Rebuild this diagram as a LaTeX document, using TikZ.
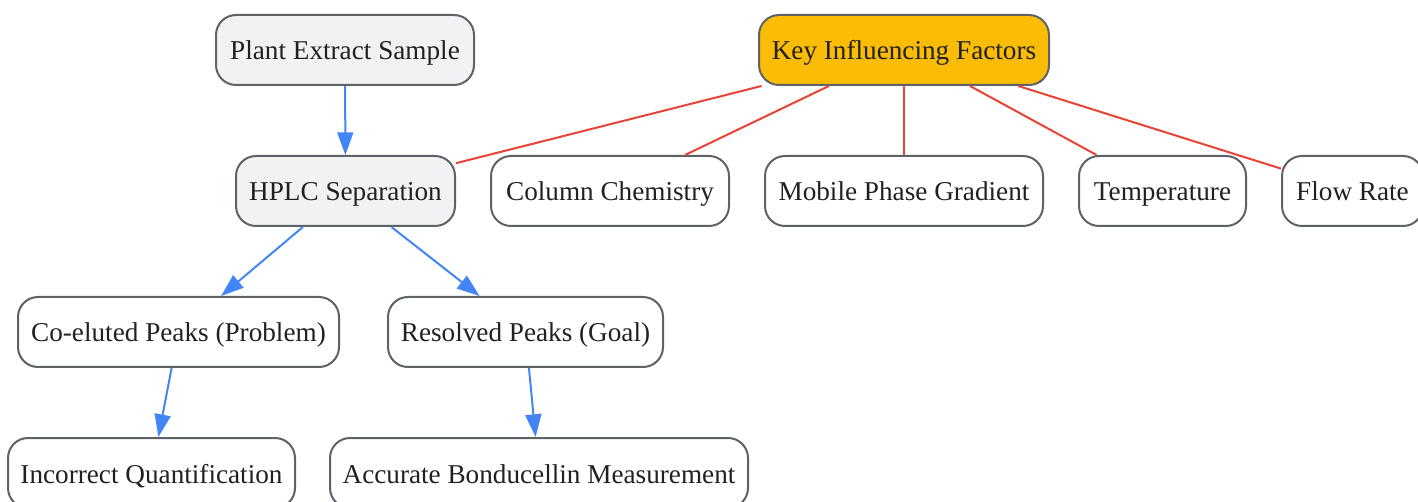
\documentclass[tikz,border=0pt]{standalone}
\usepackage{fontspec}
\setmainfont{Liberation Serif}
\usepackage{tikz}
\usetikzlibrary{arrows.meta}

\definecolor{boxline}{HTML}{5F6368}
\definecolor{boxgray}{HTML}{F1F2F4}
\definecolor{keyfill}{HTML}{FBBC05}
\definecolor{flowblue}{HTML}{4285F4}
\definecolor{factorred}{HTML}{EA4335}
\definecolor{textdark}{HTML}{202124}

\begin{document}
\begin{tikzpicture}[x=0.75pt, y=-0.75pt,
  stage/.style={draw=boxline, line width=1.5pt, rounded corners=15pt, minimum height=52.5pt,
    text height=17pt, text depth=2pt, inner ysep=0pt,
    text=textdark, font=\fontsize{20.4}{24}\selectfont, fill=white},
  flow/.style={draw=flowblue, line width=1.5pt, -{Triangle[length=17pt, width=12pt]}},
  factor/.style={draw=factorred, line width=1.5pt}]
\clip (0, 0) rectangle (1418, 502);

\node[stage, fill=boxgray, minimum width=193.5pt] (plant sample) at (345, 50) {Plant Extract Sample};
\node[stage, fill=keyfill, minimum width=217.5pt] (key factors) at (904, 50) {Key Influencing Factors};

\node[stage, fill=boxgray, minimum width=164.25pt] (hplc) at (345.5, 191) {HPLC Separation};
\node[stage, minimum width=178.5pt] (column) at (610, 191) {Column Chemistry};
\node[stage, minimum width=208.5pt] (mobile phase) at (904, 191) {Mobile Phase Gradient};
\node[stage, minimum width=125.25pt] (temperature) at (1162.5, 191) {Temperature};
\node[stage, minimum width=105.75pt] (flow rate) at (1352.5, 191) {Flow Rate};

\node[stage, minimum width=240.75pt] (coeluted) at (178.5, 332) {Co-eluted Peaks (Problem)};
\node[stage, minimum width=206.25pt] (resolved) at (525.5, 332) {Resolved Peaks (Goal)};

\node[stage, minimum width=215.25pt] (incorrect) at (151.5, 473) {Incorrect Quantification};
\node[stage, minimum width=313.5pt] (accurate) at (539, 473) {Accurate Bonducellin Measurement};

\draw[flow] (plant sample) -- (hplc);
\draw[flow] (hplc) -- (coeluted);
\draw[flow] (hplc) -- (resolved);
\draw[flow] (coeluted) -- (incorrect);
\draw[flow] (resolved) -- (accurate);

\draw[factor] (key factors) -- (hplc);
\draw[factor] (key factors) -- (column);
\draw[factor] (key factors) -- (mobile phase);
\draw[factor] (key factors) -- (temperature);
\draw[factor] (key factors) -- (flow rate);
\end{tikzpicture}
\end{document}
